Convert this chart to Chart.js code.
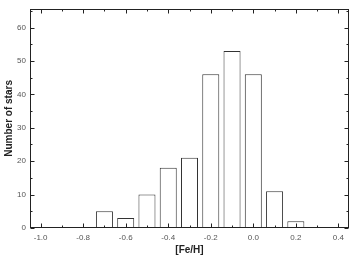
<!DOCTYPE html>
<html>
<head>
<meta charset="utf-8">
<script src="https://cdn.jsdelivr.net/npm/chart.js@4/dist/chart.umd.min.js"></script>
<style>
  html, body { margin: 0; padding: 0; background: #fff; }
  #wrap { width: 351px; height: 256px; }
</style>
</head>
<body>
<div id="wrap"><canvas id="graph1" width="351" height="256"></canvas></div>
<script>
// histogram of [Fe/H], bins of 0.1 dex
const binCenters = [-0.7, -0.6, -0.5, -0.4, -0.3, -0.2, -0.1, 0.0, 0.1, 0.2];
const starCounts = [5, 3, 10, 18, 21, 46, 53, 46, 11, 2];
const xTicks      = [-1.0, -0.8, -0.6, -0.4, -0.2, 0.0, 0.2, 0.4];
const xMinorTicks = [-1.0, -0.9, -0.8, -0.7, -0.6, -0.5, -0.4, -0.3, -0.2, -0.1, 0.0, 0.1, 0.2, 0.3, 0.4];
const yTicks      = [0, 10, 20, 30, 40, 50, 60];
const yMinorTicks = [0, 5, 10, 15, 20, 25, 30, 35, 40, 45, 50, 55, 60, 65];

const initChart = () => {
  const ctx = document.getElementById('graph1').getContext('2d');

  // frame + inward ticks on all four sides
  const frameTicks = {
    id: 'frameTicks',
    afterDraw(chart) {
      const c = chart.ctx;
      const a = chart.chartArea;
      const xs = chart.scales.x;
      const ys = chart.scales.y;
      c.save();
      c.strokeStyle = '#222';
      c.lineWidth = 1;
      const l = Math.round(a.left) + 0.5, r = Math.round(a.right) - 0.5;
      const t = Math.round(a.top) + 0.5, b = Math.round(a.bottom) - 0.5;
      c.strokeRect(l, t, r - l, b - t);
      c.beginPath();
      xMinorTicks.forEach(v => {
        const px = Math.round(xs.getPixelForValue(v)) + 0.5;
        const len = xTicks.some(tk => Math.abs(tk - v) < 1e-6) ? 4 : 2;
        c.moveTo(px, b); c.lineTo(px, b - len);
        c.moveTo(px, t); c.lineTo(px, t + len);
      });
      yMinorTicks.forEach(v => {
        const py = Math.round(ys.getPixelForValue(v)) + 0.5;
        const len = yTicks.includes(v) ? 4 : 2;
        c.moveTo(l, py); c.lineTo(l + len, py);
        c.moveTo(r, py); c.lineTo(r - len, py);
      });
      c.stroke();
      c.restore();
    }
  };

  const data = {
    datasets: [{
      label: 'Number of stars',
      data: binCenters.map((x, i) => ({ x: x, y: starCounts[i] })),
      backgroundColor: '#ffffff',
      borderColor: '#333333',
      borderWidth: 1,
      barPercentage: 0.8,
      categoryPercentage: 1.0
    }]
  };

  const options = {
    responsive: false,
    animation: false,
    layout: { padding: { top: 6, right: 2, left: 0, bottom: 0 } },
    plugins: { legend: { display: false }, tooltip: { enabled: false } },
    scales: {
      x: {
        type: 'linear',
        offset: false,
        min: -1.05,
        max: 0.45,
        grid: { display: false, drawTicks: false, offset: false },
        border: { display: false },
        afterBuildTicks: s => { s.ticks = xTicks.map(v => ({ value: v })); },
        afterFit: s => { s.height = 28; },
        ticks: {
          padding: 5,
          color: '#555',
          font: { family: 'Liberation Sans, Arial', size: 8 },
          maxRotation: 0,
          callback: v => Number(v).toFixed(1)
        },
        title: {
          display: true,
          text: '[Fe/H]',
          color: '#222',
          font: { family: 'Liberation Sans, Arial', size: 10, weight: 'bold' },
          padding: { top: 6, bottom: 0 }
        }
      },
      y: {
        min: 0,
        max: 65.6,
        grid: { display: false, drawTicks: false },
        border: { display: false },
        afterBuildTicks: s => { s.ticks = yTicks.map(v => ({ value: v })); },
        afterFit: s => { s.width = 30; },
        ticks: {
          padding: 4,
          color: '#555',
          font: { family: 'Liberation Sans, Arial', size: 8 }
        },
        title: {
          display: true,
          text: 'Number of stars',
          color: '#222',
          font: { family: 'Liberation Sans, Arial', size: 10, weight: 'bold' },
          padding: { top: 3, bottom: 0 }
        }
      }
    }
  };

  new Chart(ctx, { type: 'bar', data: data, options: options, plugins: [frameTicks] });
};

initChart();
</script>
</body>
</html>
